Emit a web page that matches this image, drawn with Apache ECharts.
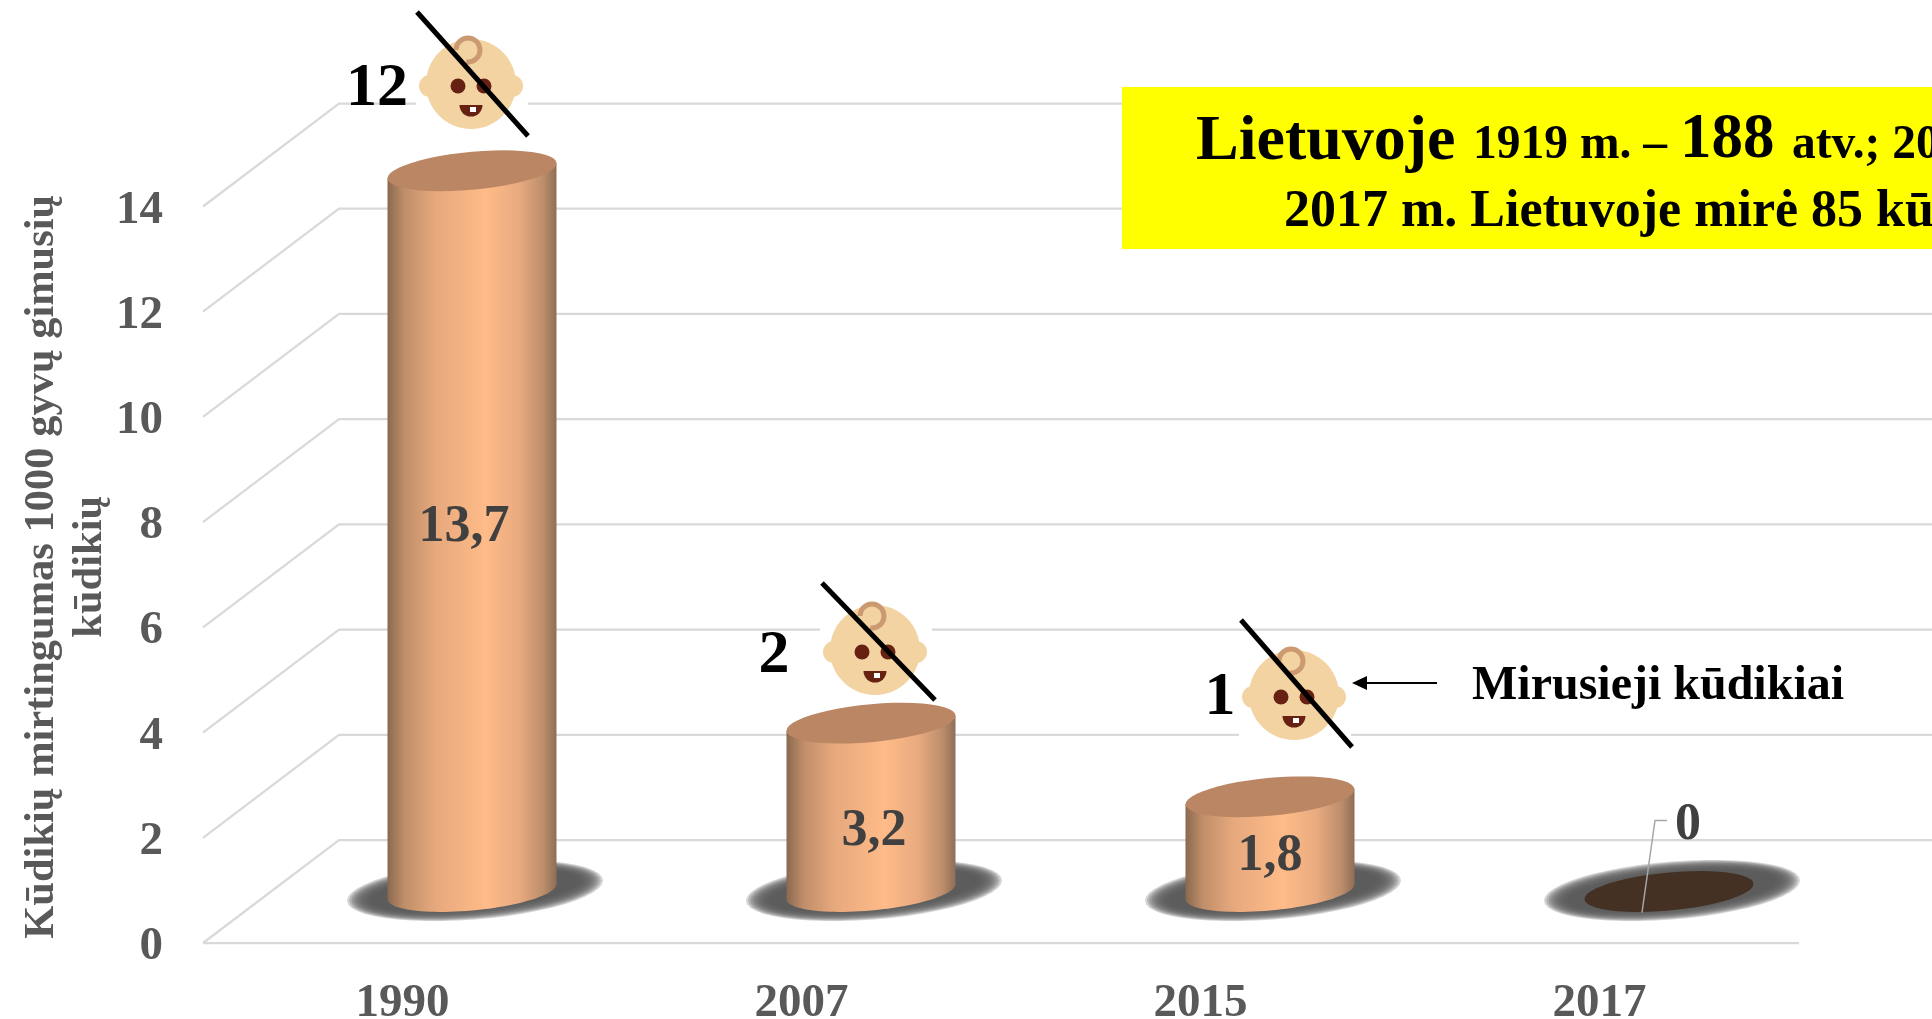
<!DOCTYPE html>
<html><head><meta charset="utf-8">
<style>html,body{margin:0;padding:0;background:#fff;overflow:hidden}#c{width:1932px;height:1019px}</style>
<script src="https://cdn.jsdelivr.net/npm/echarts@6/dist/echarts.min.js"></script>
</head><body><div id="c"></div>
<script>
const years = ['1990', '2007', '2015', '2017'];
const mortality = [13.7, 3.2, 1.8, 0];
const deaths = [12, 2, 1];
const ticks = [0, 2, 4, 6, 8, 10, 12, 14];
const yAxisTitle = 'Kūdikių mirtingumas 1000 gyvų gimusių\nkūdikių';
const annotationText = 'Mirusieji kūdikiai';

const SERIF = '"Liberation Serif","Times New Roman",serif';
const DEPTH_X = 136, DEPTH_Y = 103;
const BAR_A = 84.5, BAR_B = 19, BAR_K = 7.5;

function rim(cx, cy, a, b, k, from, to) {
  const pts = [];
  for (let i = 0; i <= 48; i++) {
    const t = from + (to - from) * i / 48;
    pts.push([cx + a * Math.cos(t), cy + b * Math.sin(t) - k * Math.cos(t)]);
  }
  return pts;
}
const bodyFill = new echarts.graphic.LinearGradient(0, 0, 1, 0, [
  {offset: 0, color: '#8a6950'}, {offset: 0.1, color: '#bf8e69'}, {offset: 0.28, color: '#e6a87d'},
  {offset: 0.58, color: '#ffbb88'}, {offset: 0.78, color: '#e8aa7f'}, {offset: 0.92, color: '#bd8e6c'},
  {offset: 1, color: '#8f6e55'}
]);
const labelNudge = [[-8, -4], [3, 24], [0, 12]];

function renderGrid(params, api) {
  const tick = api.value(1);
  const p = api.coord([0, tick]);
  const cs = params.coordSys;
  const left = cs.x, y = p[1];
  const children = [{
    type: 'polyline',
    shape: {points: [[left, y], [left + DEPTH_X, y - DEPTH_Y], [left + cs.width + DEPTH_X, y - DEPTH_Y]]},
    style: {stroke: '#d9d9d9', lineWidth: 2.25, fill: null}
  }];
  if (tick === 0) children.push({
    type: 'line', shape: {x1: left, y1: y, x2: left + cs.width, y2: y},
    style: {stroke: '#d9d9d9', lineWidth: 2.25}
  });
  return {type: 'group', children};
}

function renderBar(params, api) {
  const i = params.dataIndex;
  const v = api.value(1);
  const base = api.coord([i, 0]);
  const top = api.coord([i, v]);
  const cx = base[0] + DEPTH_X / 2 + 1.5;
  const by = base[1] - DEPTH_Y / 2, ty = top[1] - DEPTH_Y / 2;
  const children = [];
  for (let s = 0; s < 12; s++) {
    children.push({
      type: 'polygon',
      shape: {points: rim(cx + 3, by - 1, 128 - s * 2.2, 29 - s * 1.0, 10, 0, Math.PI * 2)},
      style: {fill: 'rgba(89,89,89,0.26)'}
    });
  }
  if (v > 0) {
    const lower = rim(cx, by, BAR_A, BAR_B, BAR_K, 0, Math.PI);
    const body = lower.concat([[cx - BAR_A, ty + BAR_K], [cx + BAR_A, ty - BAR_K]]);
    children.push({type: 'polygon', shape: {points: body}, style: {fill: bodyFill}});
    children.push({type: 'polygon', shape: {points: rim(cx, ty, BAR_A, BAR_B, BAR_K, 0, Math.PI * 2)}, style: {fill: '#ba8663'}});
    const n = labelNudge[i];
    children.push({type: 'text', style: {
      text: String(v).replace('.', ','), x: cx + n[0], y: (by + ty) / 2 + n[1],
      align: 'center', verticalAlign: 'middle', fill: '#404040',
      fontFamily: SERIF, fontWeight: 'bold', fontSize: 52
    }});
  } else {
    children.push({type: 'polygon', shape: {points: rim(cx, ty, BAR_A, BAR_B, BAR_K, 0, Math.PI * 2)}, style: {fill: '#453024'}});
    children.push({type: 'polyline',
      shape: {points: [[cx - 27, by + 21], [cx - 14, by - 71], [cx - 2, by - 71]]},
      style: {stroke: '#a6a6a6', lineWidth: 1.5, fill: null}});
    children.push({type: 'text', style: {
      text: String(v), x: cx + 19, y: by - 66, align: 'center', verticalAlign: 'middle',
      fill: '#404040', fontFamily: SERIF, fontWeight: 'bold', fontSize: 52
    }});
  }
  return {type: 'group', children};
}

const TOP = 100;
function baby(cx, cy, line) {
  const el = [];
  const add = o => el.push(Object.assign({z: TOP, silent: true}, o));
  add({type: 'rect', shape: {x: cx - 55, y: cy - 54, width: 112, height: 104}, style: {fill: '#fff'}});
  add({type: 'circle', shape: {cx: cx - 41, cy: cy + 2, r: 11}, style: {fill: '#f3d3a2'}});
  add({type: 'circle', shape: {cx: cx + 41, cy: cy + 2, r: 11}, style: {fill: '#f3d3a2'}});
  add({type: 'ellipse', shape: {cx: cx, cy: cy, rx: 45, ry: 45}, style: {fill: '#f3d3a2'}});
  add({type: 'arc', shape: {cx: cx - 3, cy: cy - 34, r: 12, startAngle: Math.PI * 1.0, endAngle: Math.PI * 0.55, clockwise: true},
       style: {stroke: '#cc9a70', lineWidth: 5, fill: null}});
  add({type: 'circle', shape: {cx: cx - 13, cy: cy + 2, r: 7.5}, style: {fill: '#662113'}});
  add({type: 'circle', shape: {cx: cx + 13, cy: cy + 2, r: 7.5}, style: {fill: '#662113'}});
  add({type: 'sector', shape: {cx: cx, cy: cy + 21, r0: 0, r: 11.5, startAngle: 0, endAngle: Math.PI, clockwise: true}, style: {fill: '#662113'}});
  add({type: 'rect', shape: {x: cx - 1, y: cy + 23, width: 6, height: 5}, style: {fill: '#fff'}});
  add({type: 'line', shape: {x1: cx + line[0], y1: cy + line[1], x2: cx + line[2], y2: cy + line[3]}, style: {stroke: '#000', lineWidth: 5}});
  return el;
}
function label(text, x, y, size, fill, align) {
  return {type: 'text', z: TOP, silent: true, style: {text, x, y, fill: fill || '#000', fontFamily: SERIF, fontWeight: 'bold',
    fontSize: size, align: align || 'left', verticalAlign: 'middle'}};
}

const graphics = [].concat(
  baby(471, 84, [-54, -72, 57, 52]),
  baby(875, 650, [-53, -67, 60, 50]),
  baby(1294, 695, [-53, -75, 58, 52]),
  [
    label(String(deaths[0]), 377, 89, 62, '#000', 'center'),
    label(String(deaths[1]), 774, 656, 62, '#000', 'center'),
    label(String(deaths[2]), 1220, 698, 62, '#000', 'center'),
    {type: 'rect', z: TOP, silent: true, shape: {x: 1122, y: 87, width: 810, height: 162}, style: {fill: '#ffff00'}},
    label('Lietuvoje', 1196, 142, 64),
    label('1919 m. –', 1473, 146, 47.5),
    label('188', 1680, 141, 63),
    label('atv.; 20', 1792, 146, 47.5),
    label('2017 m. Lietuvoje mirė 85 kū', 1284, 213, 52),
    label(annotationText, 1472, 687, 48),
    {type: 'line', z: TOP, silent: true, shape: {x1: 1437, y1: 683, x2: 1362, y2: 683}, style: {stroke: '#000', lineWidth: 2}},
    {type: 'polygon', z: TOP, silent: true, shape: {points: [[1352, 683], [1367, 676], [1367, 690]]}, style: {fill: '#000'}}
  ]
);

const chart = echarts.init(document.getElementById('c'), null, {renderer: 'canvas'});
chart.setOption({
  animation: false,
  backgroundColor: '#fff',
  grid: {left: 203, width: 1596, top: 206.5, height: 736.5, containLabel: false, outerBoundsMode: 'none'},
  xAxis: {
    type: 'category', data: years,
    axisLine: {show: false}, axisTick: {show: false}, splitLine: {show: false},
    axisLabel: {margin: 37, color: '#595959', fontFamily: SERIF, fontWeight: 'bold', fontSize: 47}
  },
  yAxis: {
    type: 'value', min: 0, max: 14, interval: 2,
    axisLine: {show: false}, axisTick: {show: false}, splitLine: {show: false},
    axisLabel: {margin: 40, color: '#595959', fontFamily: SERIF, fontWeight: 'bold', fontSize: 47, verticalAlign: 'top', lineHeight: 8},
    name: yAxisTitle, nameLocation: 'middle', nameRotate: 90, nameGap: 89, nameMoveOverlap: false,
    nameTextStyle: {color: '#595959', fontFamily: SERIF, fontWeight: 'bold', fontSize: 42.5, lineHeight: 48, padding: [0, 0, 0, 16]}
  },
  graphic: {elements: graphics},
  series: [
    {type: 'custom', coordinateSystem: 'cartesian2d', z: 1, silent: true, clip: false,
     data: ticks.map(t => [0, t]), encode: {x: 0, y: 1}, renderItem: renderGrid},
    {type: 'custom', coordinateSystem: 'cartesian2d', z: 2, silent: true, clip: false,
     data: mortality.map((v, i) => [i, v]), encode: {x: 0, y: 1}, renderItem: renderBar}
  ]
});
</script></body></html>
